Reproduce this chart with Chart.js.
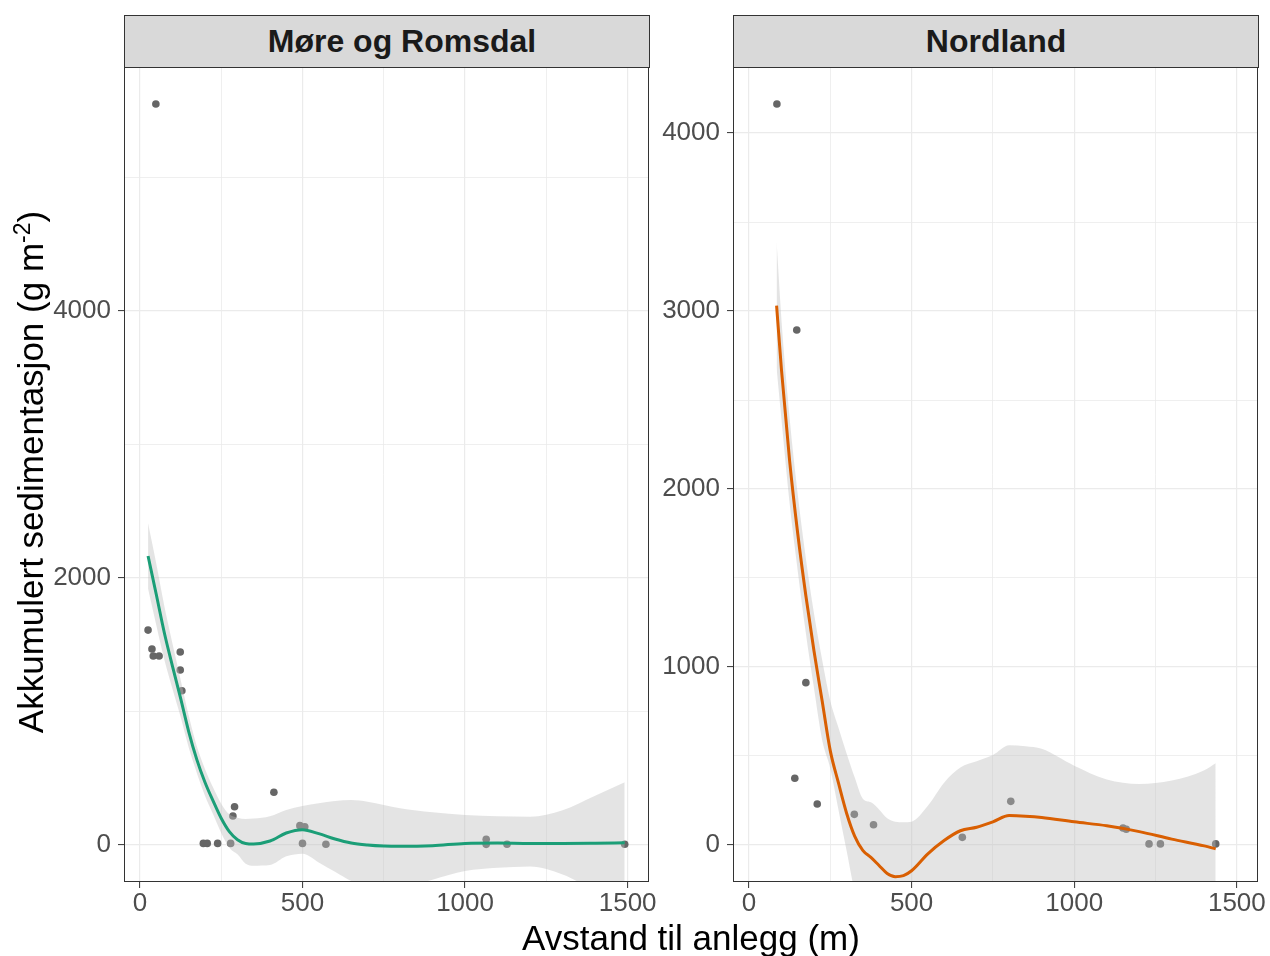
<!DOCTYPE html>
<html>
<head>
<meta charset="utf-8">
<title>Akkumulert sedimentasjon</title>
<script src="https://cdn.jsdelivr.net/npm/chart.js@4.4.1/dist/chart.umd.min.js"></script>
<style>
  html, body { margin: 0; padding: 0; background: #ffffff; }
  #wrap { position: relative; width: 1270px; height: 956px; overflow: hidden; background: #ffffff;
          font-family: "Liberation Sans", Arial, sans-serif; }
  canvas { position: absolute; top: 0; }
  .strip { position: absolute; top: 15px; height: 53px; box-sizing: border-box;
           border: 1px solid #333333; background: #d9d9d9; color: #1a1a1a;
           font-weight: bold; font-size: 32px; line-height: 50px; text-align: center; }
  .axis-title { position: absolute; color: #000000; font-size: 35px; text-align: center; white-space: nowrap; }
</style>
</head>
<body>
<div id="wrap">
  <canvas id="panelMore" width="660" height="956" style="left:0px"></canvas>
  <canvas id="panelNord" width="610" height="956" style="left:660px"></canvas>
  <div class="strip" style="left:124px; width:526px; padding-left:30px;">Møre og Romsdal</div>
  <div class="strip" style="left:733px; width:526px;">Nordland</div>
  <div class="axis-title" style="left:391px; top:920px; width:600px; height:35px; line-height:35px;">Avstand til anlegg (m)</div>
  <div class="axis-title" style="left:-319px; top:454px; width:700px; height:36px; line-height:36px; transform:rotate(-90deg);">Akkumulert sedimentasjon (g m<sup style="font-size:23px; line-height:0;">-2</sup>)</div>
</div>
<script>
// Observed sedimentation, Møre og Romsdal
const moreDist = [25, 37, 41, 59, 49, 124, 124, 129, 195, 207, 239, 279, 286, 291, 412, 492, 507, 500, 572, 1065, 1065, 1129, 1491];
const moreSed  = [1610, 1468, 1416, 1416, 5551, 1446, 1311, 1156, 12, 12, 12, 12, 217, 287, 395, 145, 137, 12, 6, 43, 5, 6, 6];

// Observed sedimentation, Nordland
const nordDist = [86, 147, 141, 175, 210, 324, 383, 656, 805, 1150, 1160, 1230, 1265, 1435];
const nordSed  = [4163, 2893, 375, 912, 230, 172, 114, 43, 245, 95, 88, 6, 6, 6];

// Smoothed trend with confidence band, Møre og Romsdal
const moreFitDist = [25, 50, 75, 100, 125, 150, 175, 200, 225, 250, 275, 300, 325, 350, 400, 450, 500, 550, 600, 650, 700, 750, 800, 900, 1000, 1100, 1200, 1300, 1400, 1491];
const moreFit     = [2165, 1880, 1590, 1340, 1100, 850, 640, 470, 330, 200, 100, 40, 12, 8, 30, 90, 115, 85, 45, 15, 0, -8, -10, -5, 12, 15, 12, 12, 14, 17];
const moreUpper   = [2410, 2110, 1790, 1510, 1240, 970, 740, 570, 430, 310, 230, 205, 195, 198, 215, 262, 292, 312, 330, 337, 325, 300, 275, 245, 225, 215, 212, 260, 370, 470];
const moreLower   = [1920, 1650, 1390, 1170, 960, 730, 540, 370, 230, 90, -20, -70, -140, -155, -150, -85, -65, -130, -200, -270, -320, -340, -330, -260, -195, -170, -160, -220, -340, -430];

// Smoothed trend with confidence band, Nordland
const nordFitDist = [85, 100, 125, 150, 175, 200, 225, 250, 275, 300, 325, 350, 375, 400, 425, 450, 475, 500, 550, 600, 650, 700, 750, 800, 850, 900, 1000, 1100, 1200, 1300, 1400, 1435];
const nordFit     = [3030, 2670, 2160, 1750, 1400, 1090, 810, 530, 350, 180, 50, -30, -70, -115, -160, -178, -172, -145, -50, 25, 80, 100, 130, 165, 162, 155, 130, 108, 75, 33, -5, -22];
const nordUpper   = [3390, 2950, 2400, 1970, 1610, 1300, 1040, 810, 660, 516, 380, 260, 240, 200, 150, 131, 128, 131, 220, 350, 435, 470, 505, 560, 555, 540, 445, 368, 343, 362, 420, 459];
const nordLower   = [2680, 2390, 1920, 1540, 1190, 880, 590, 430, 200, -30, -260, -400, -460, -500, -540, -560, -560, -520, -420, -350, -300, -280, -260, -240, -235, -235, -240, -240, -250, -290, -380, -420];

// Axis ticks
const distTicks      = [0, 500, 1000, 1500];
const distMinorTicks = [250, 750, 1250];
const moreTicks      = [0, 2000, 4000];
const moreMinorTicks = [1000, 3000, 5000];
const nordTicks      = [0, 1000, 2000, 3000, 4000];
const nordMinorTicks = [500, 1500, 2500, 3500];

const GREEN = '#1b9e77';
const ORANGE = '#d95f02';
const TICK_FONT = { family: '"Liberation Sans", Arial, sans-serif', size: 26, lineHeight: 1 };

const toXY = (xs, ys) => xs.map((x, i) => ({ x: x, y: ys[i] }));

// Frame around each plotting area
const panelBorder = {
  id: 'panelBorder',
  afterDraw(chart) {
    const a = chart.chartArea, ctx = chart.ctx;
    ctx.save();
    ctx.strokeStyle = '#333333';
    ctx.lineWidth = 1;
    ctx.strokeRect(Math.round(a.left) + 0.5, Math.round(a.top) + 0.5,
                   Math.round(a.right - a.left) - 1, Math.round(a.bottom - a.top) - 1);
    ctx.restore();
  }
};

function axis(major, minor, min, max, isX, size) {
  return {
    type: 'linear',
    min: min,
    max: max,
    afterBuildTicks: s => { s.ticks = major.concat(minor).sort((a, b) => a - b).map(v => ({ value: v })); },
    afterFit: s => { if (isX) { s.height = size; } else { s.width = size; } },
    border: { display: false },
    grid: {
      color: '#ebebeb',
      lineWidth: c => (c.tick && major.includes(c.tick.value)) ? 1.2 : 0.8,
      tickLength: 6,
      tickWidth: 1,
      tickColor: c => (c.tick && major.includes(c.tick.value)) ? '#333333' : 'rgba(0,0,0,0)'
    },
    ticks: {
      autoSkip: false,
      maxRotation: 0,
      minRotation: 0,
      padding: isX ? 3 : 7,
      color: '#4d4d4d',
      font: TICK_FONT,
      callback: v => major.includes(v) ? String(v) : ''
    }
  };
}

function panel(id, dist, sed, fitDist, fit, upper, lower, colour, yMin, yMax, yMajor, yMinor, yWidth, padRight) {
  return new Chart(document.getElementById(id), {
    type: 'line',
    data: {
      datasets: [
        { type: 'line', data: toXY(fitDist, fit), borderColor: colour, borderWidth: 3,
          pointRadius: 0, cubicInterpolationMode: 'monotone', fill: false, order: 1 },
        { type: 'line', data: toXY(fitDist, upper), borderWidth: 0, borderColor: 'rgba(0,0,0,0)',
          pointRadius: 0, cubicInterpolationMode: 'monotone', fill: '+1',
          backgroundColor: 'rgba(189,189,189,0.41)', order: 2 },
        { type: 'line', data: toXY(fitDist, lower), borderWidth: 0, borderColor: 'rgba(0,0,0,0)',
          pointRadius: 0, cubicInterpolationMode: 'monotone', fill: false, order: 3 },
        { type: 'scatter', data: toXY(dist, sed), pointRadius: 3.8, pointHoverRadius: 3.8,
          pointBackgroundColor: '#666666', pointBorderWidth: 0, showLine: false, order: 4 }
      ]
    },
    options: {
      responsive: false,
      animation: false,
      devicePixelRatio: 1,
      layout: { padding: { top: 67, bottom: 0, left: 0, right: padRight } },
      plugins: { legend: { display: false }, tooltip: { enabled: false } },
      scales: {
        x: axis(distTicks, distMinorTicks, -49, 1565, true, 74),
        y: axis(yMajor, yMinor, yMin, yMax, false, yWidth)
      }
    },
    plugins: [panelBorder]
  });
}

panel('panelMore', moreDist, moreSed, moreFitDist, moreFit, moreUpper, moreLower, GREEN,
      -277, 5828, moreTicks, moreMinorTicks, 124, 11);
panel('panelNord', nordDist, nordSed, nordFitDist, nordFit, nordUpper, nordLower, ORANGE,
      -208, 4371, nordTicks, nordMinorTicks, 73, 12);
</script>
</body>
</html>
